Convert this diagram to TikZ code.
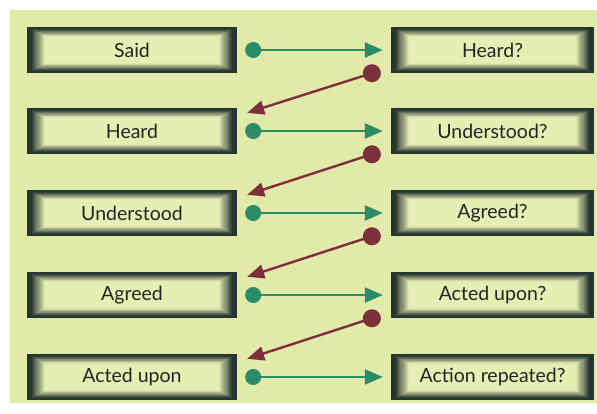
\documentclass[tikz,border=0pt]{standalone}
\usepackage{fontspec}
\setmainfont{Lato}
\usetikzlibrary{arrows.meta,calc}
\definecolor{bg}{HTML}{E2EAAA}
\definecolor{boxlight}{HTML}{E6EEB4}
\definecolor{boxdark}{HTML}{26352F}
\definecolor{txt}{HTML}{1E2822}
\definecolor{gline}{HTML}{2B8C68}
\definecolor{rline}{HTML}{7D2F3C}
\tikzset{
  glowbox/.style={minimum height=46pt, inner sep=0pt, fill=boxdark,
    font=\fontsize{19.5}{21}\selectfont, text=txt,
    path picture={
      \foreach \i in {0,...,16} {
        \pgfmathsetmacro\m{max(0,min(100,100-(\i-3)*8))}
        \fill[boxdark!\m!boxlight]
          ([shift={(\i*1.15pt,-\i*0.6pt)}]path picture bounding box.north west)
          rectangle
          ([shift={(-\i*1.15pt,\i*0.6pt)}]path picture bounding box.south east);
      }
    }},
  leftbox/.style={glowbox, minimum width=210pt},
  rightbox/.style={glowbox, minimum width=203pt},
  garrow/.style={draw=gline, line width=2.4pt, fill=gline,
    arrows={Circle[length=16pt]-Triangle[length=18pt,width=15pt]},
    shorten <=8pt, shorten >=8pt},
  rarrow/.style={draw=rline, line width=2.4pt, fill=rline,
    arrows={Circle[length=18pt]-Triangle[length=17pt,width=14pt]}},
}
\begin{document}
\begin{tikzpicture}[x=1pt,y=-1pt]
\useasboundingbox (0,0) rectangle (597,413);
\fill[white] (0,0) rectangle (597,413);
\fill[bg] (10,10) rectangle (597,403);
\node[leftbox] (said) at (132,50) {Said};
\node[leftbox] (heard) at (132,131) {Heard};
\node[leftbox] (understood) at (132,213) {Understood};
\node[leftbox] (agreed) at (132,295) {Agreed};
\node[leftbox] (acted) at (132,377) {Acted upon};
\node[rightbox] (heardq) at (492.5,50) {Heard?};
\node[rightbox] (understoodq) at (492.5,131) {Understood?};
\node[rightbox] (agreedq) at (492.5,213) {Agreed?};
\node[rightbox] (actedq) at (492.5,295) {Acted upon?};
\node[rightbox] (repeatedq) at (492.5,377) {Action repeated?};
\draw[garrow] (said) -- (heardq);
\draw[garrow] (heard) -- (understoodq);
\draw[garrow] (understood) -- (agreedq);
\draw[garrow] (agreed) -- (actedq);
\draw[garrow] (acted) -- (repeatedq);
\draw[rarrow] ([xshift=-10.4pt,yshift=2.7pt]heardq.south west) -- ([xshift=10pt,yshift=-5pt]heard.north east);
\draw[rarrow] ([xshift=-10.4pt,yshift=2.7pt]understoodq.south west) -- ([xshift=10pt,yshift=-5pt]understood.north east);
\draw[rarrow] ([xshift=-10.4pt,yshift=2.7pt]agreedq.south west) -- ([xshift=10pt,yshift=-5pt]agreed.north east);
\draw[rarrow] ([xshift=-10.4pt,yshift=2.7pt]actedq.south west) -- ([xshift=10pt,yshift=-5pt]acted.north east);
\end{tikzpicture}
\end{document}
